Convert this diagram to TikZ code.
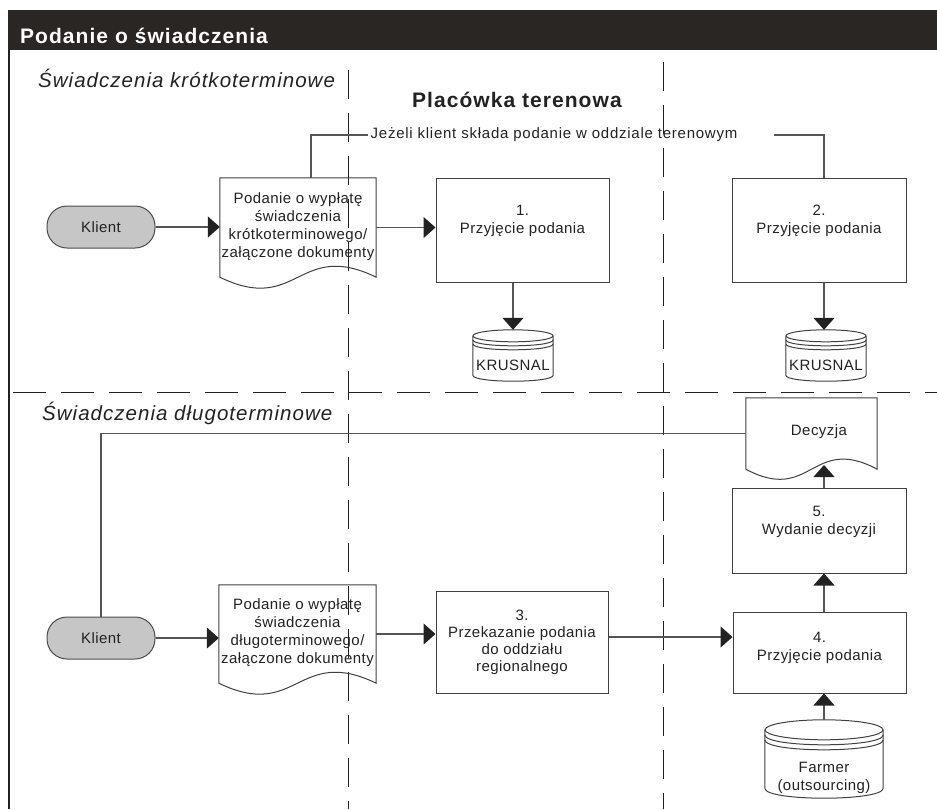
\documentclass[tikz,border=0pt]{standalone}
\usepackage{fontspec}
\setmainfont[LetterSpace=5]{Liberation Sans}
\newfontfamily\bodyfont[LetterSpace=3]{Liberation Sans}
\usetikzlibrary{arrows.meta,calc}
\definecolor{hdr}{HTML}{2A2623}
\definecolor{ink}{HTML}{222222}
\definecolor{ln}{HTML}{555555}
\newcommand\drum[4]{% name, rx, ry, gap
  \draw[drumline] ($(#1.north)+(0,#3)$) ellipse [x radius=#2pt, y radius=#3pt];
  \draw[drumline] ($(#1.north west)+(0,#3+#4)$) .. controls +(0,1.333*#3) and +(0,1.333*#3) .. ($(#1.north east)+(0,#3+#4)$);
  \draw[drumline] ($(#1.north west)+(0,#3+2*#4)$) .. controls +(0,1.333*#3) and +(0,1.333*#3) .. ($(#1.north east)+(0,#3+2*#4)$);
  \draw[drumline] ($(#1.north west)+(0,#3)$) -- ($(#1.south west)+(0,-#3)$) .. controls +(0,1.333*#3) and +(0,1.333*#3) .. ($(#1.south east)+(0,-#3)$) -- ($(#1.north east)+(0,#3)$);
}
\newcommand\docdraw[2]{% name, amplitude
  \draw[drumline] (#1.north west) -- (#1.north east) -- (#1.south east) .. controls ($(#1.south)+(0,-#2)$) and ($(#1.south)+(0,#2)$) .. (#1.south west) -- cycle;
}
\begin{document}
\begin{tikzpicture}[x=1pt,y=-1pt,
  txt/.style={align=center,font=\bodyfont\fontsize{15}{18}\selectfont,text=ink,inner sep=0pt},
  box/.style={draw=black!75,line width=1pt,inner sep=0pt},
  shapebox/.style={inner sep=0pt},
  conn/.style={draw=ln,line width=1.2pt},
  arr/.style={conn,-{Triangle[width=21pt,length=12pt,color=ink]}},
  lanev/.style={draw=ink,line width=1pt,dash pattern=on 29pt off 14pt},
  laneh/.style={draw=ink,line width=1pt,dash pattern=on 33pt off 15pt},
  pill/.style={draw=black!70,fill=gray!45,line width=1pt,rounded corners=20pt,minimum width=108pt,minimum height=42pt,inner sep=0pt,font=\bodyfont\fontsize{15}{18}\selectfont,text=ink},
  drumline/.style={draw=black!75,line width=1pt},
  lanelabel/.style={anchor=base west,inner sep=0pt,text=ink,font=\itshape\fontsize{20.5}{24}\selectfont},
]
\useasboundingbox (0,0) rectangle (937,809);
% frame
\fill[hdr] (8,10) rectangle (937,50);
\node[anchor=base west,inner sep=0pt,text=white,font=\bfseries\fontsize{21}{24}\selectfont] (ht) at (20,43) {Podanie o świadczenia};
\draw[ink,line width=1.2pt] (9,50) -- (9,809);
% lanes
\draw[lanev] (348,70) -- (348,809);
\draw[lanev] (663,62) -- (663,809);
\draw[laneh] (13,392) -- (937,392);
\node[lanelabel] (l1) at (38,87) {Świadczenia krótkoterminowe};
\node[lanelabel] (l2) at (42,420) {Świadczenia długoterminowe};
\node[anchor=base west,inner sep=0pt,text=ink,font=\bfseries\fontsize{21}{24}\selectfont] (pt) at (412,107) {Placówka terenowa};
\node[txt,font=\fontsize{15}{18}\selectfont,inner sep=2pt] (jez) at (554,135) {Jeżeli klient składa podanie w oddziale terenowym};

% upper lane
\node[pill] (k1) at (101,227) {Klient};
\node[shapebox,minimum width=156pt,minimum height=99pt] (d1) at (298,227.5) {};
\docdraw{d1}{38}
\node[txt] (d1t) at (298,226.5) {Podanie o wypłatę\\świadczenia\\krótkoterminowego/\\załączone dokumenty};
\node[box,minimum width=173pt,minimum height=104pt] (b1) at (522.5,230) {};
\node[txt] (b1t) at (522.5,221) {1.\\Przyjęcie podania};
\node[box,minimum width=174pt,minimum height=104pt] (b2) at (819,230) {};
\node[txt] (b2t) at (819,221) {2.\\Przyjęcie podania};
\node[shapebox,minimum width=80pt,minimum height=51pt] (c1) at (513,355.5) {};
\drum{c1}{40}{6}{4}
\node[txt] (c1t) at (513,365) {KRUSNAL};
\node[shapebox,minimum width=80pt,minimum height=51pt] (c2) at (826,355.5) {};
\drum{c2}{40}{6}{4}
\node[txt] (c2t) at (826,365) {KRUSNAL};

% lower lane
\node[pill] (k2) at (101,638) {Klient};
\node[shapebox,minimum width=157pt,minimum height=98pt] (d2) at (297.5,634) {};
\docdraw{d2}{38}
\node[txt] (d2t) at (297.5,632.5) {Podanie o wypłatę\\świadczenia\\długoterminowego/\\załączone dokumenty};
\node[box,minimum width=172pt,minimum height=102pt] (b3) at (522,642) {};
\node[txt,font=\bodyfont\fontsize{15}{17}\selectfont] (b3t) at (522,642) {3.\\Przekazanie podania\\do oddziału\\regionalnego};
\node[box,minimum width=173pt,minimum height=81pt] (b4) at (819.5,652.5) {};
\node[txt] (b4t) at (819.5,648) {4.\\Przyjęcie podania};
\node[box,minimum width=174pt,minimum height=85pt] (b5) at (819,530.5) {};
\node[txt] (b5t) at (819,521.5) {5.\\Wydanie decyzji};
\node[shapebox,minimum width=131pt,minimum height=71pt] (dec) at (811.5,433.5) {};
\docdraw{dec}{35}
\node[txt] (dect) at (819,432) {Decyzja};
\node[shapebox,minimum width=118pt,minimum height=78pt] (c3) at (824,759) {};
\drum{c3}{59}{10}{5}
\node[txt] (c3t) at (824,777.5) {Farmer\\(outsourcing)};

% connectors
\coordinate (vx) at (824,0);
\coordinate (jx) at (311,0);
\coordinate (jr) at (774,135);
\coordinate (decw) at (824,465);
\draw[arr] (k1.east) -- (k1.east -| d1.west);
\draw[arr] (d1.east) -- (d1.east -| b1.west);
\draw[arr] (b1.south -| c1.north) -- (c1.north);
\draw[arr] (b2.south -| vx) -- (vx |- c2.north);
\draw[conn] (d1.north -| jx) |- (jez.west);
\draw[conn] (jr) -| (b2.north -| vx);
\draw[arr] (k2.east) -- (k2.east -| d2.west);
\draw[arr] (d2.east) -- (d2.east -| b3.west);
\draw[arr] ([yshift=5pt]b3.east) -- ([yshift=5pt]b3.east -| b4.west);
\draw[arr] (c3.north) -- (c3.north |- b4.south);
\draw[arr] (b4.north -| vx) -- (b5.south -| vx);
\draw[arr] (b5.north -| vx) -- (decw);
\draw[conn] (k2.north) |- (dec.west);
\end{tikzpicture}
\end{document}
